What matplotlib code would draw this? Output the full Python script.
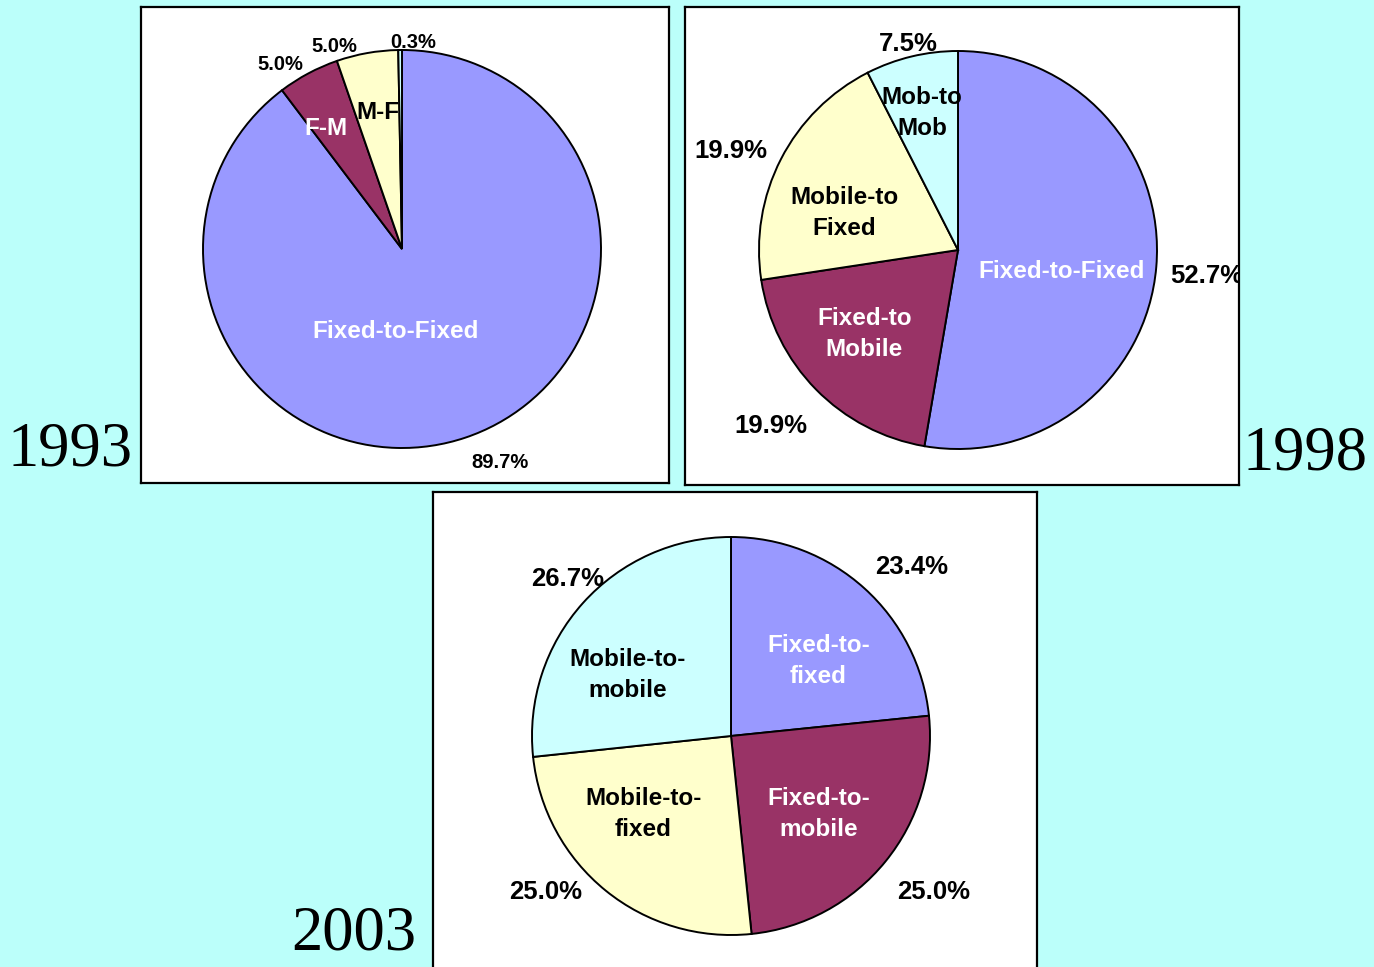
import matplotlib
matplotlib.use('Agg')
import matplotlib.pyplot as plt

W, H = 1374, 967
BG = '#bbfffa'
COLORS = ['#9999ff', '#993366', '#ffffcc', '#ccffff']

# 1993
labels_93 = ['Fixed-to-Fixed', 'F-M', 'M-F', '']
values_93 = [89.7, 5.0, 5.0, 0.3]
pct_93 = ['89.7%', '5.0%', '5.0%', '0.3%']

# 1998
labels_98 = ['Fixed-to-Fixed', 'Fixed-to\nMobile', 'Mobile-to\nFixed', 'Mob-to\nMob']
values_98 = [52.7, 19.9, 19.9, 7.5]
pct_98 = ['52.7%', '19.9%', '19.9%', '7.5%']

# 2003
labels_03 = ['Fixed-to-\nfixed', 'Fixed-to-\nmobile', 'Mobile-to-\nfixed', 'Mobile-to-\nmobile']
values_03 = [23.4, 25.0, 25.0, 26.7]
pct_03 = ['23.4%', '25.0%', '25.0%', '26.7%']

label_colors = ['white', 'white', 'black', 'black']

fig = plt.figure(figsize=(W / 100, H / 100), dpi=100, facecolor=BG)


def panel(x0, y0, x1, y1):
    ax = fig.add_axes([x0 / W, 1 - y1 / H, (x1 - x0) / W, (y1 - y0) / H])
    ax.set_facecolor('white')
    return ax, x1 - x0, y1 - y0


def draw(ax, w, h, cx, cy, r, values, labels, pcts, lab_pos, pct_pos, lab_size, pct_size):
    ax.pie(values, colors=COLORS, startangle=90, counterclock=False,
           center=(cx, cy), radius=r, frame=True,
           wedgeprops=dict(edgecolor='black', linewidth=1.4))
    ax.set_xlim(0, w)
    ax.set_ylim(0, h)
    ax.set_xticks([])
    ax.set_yticks([])
    for s in ax.spines.values():
        s.set_linewidth(1.6)
    dy = -2.5  # nudge text a touch lower
    for lab, (fx, fy), c in zip(labels, lab_pos, label_colors):
        ax.text(cx + fx * r, cy + fy * r + dy, lab, ha='center', va='center', color=c,
                fontsize=lab_size, fontweight='bold', family='Liberation Sans',
                linespacing=1.45)
    for p, (fx, fy) in zip(pcts, pct_pos):
        ax.text(cx + fx * r, cy + fy * r + dy, p, ha='center', va='center', color='black',
                fontsize=pct_size, fontweight='bold', family='Liberation Sans',
                clip_on=True)


ax1, w1, h1 = panel(141, 7, 669, 483)
draw(ax1, w1, h1, 261, 234, 199, values_93, labels_93, pct_93,
     [(-0.03, -0.40), (-0.38, 0.62), (-0.12, 0.70), (0, 0)],
     [(0.49, -1.06), (-0.61, 0.94), (-0.34, 1.03), (0.055, 1.05)],
     17.5, 14.5)

ax2, w2, h2 = panel(685, 7, 1239, 485)
draw(ax2, w2, h2, 273, 235, 199, values_98, labels_98, pct_98,
     [(0.52, -0.095), (-0.47, -0.41), (-0.57, 0.20), (-0.18, 0.70)],
     [(1.25, -0.12), (-0.94, -0.87), (-1.14, 0.51), (-0.25, 1.05)],
     17.5, 18.5)

ax3, w3, h3 = panel(433, 492, 1037, 970)
draw(ax3, w3, h3, 298, 234, 199, values_03, labels_03, pct_03,
     [(0.44, 0.39), (0.44, -0.38), (-0.44, -0.38), (-0.52, 0.32)],
     [(0.91, 0.86), (1.02, -0.77), (-0.93, -0.77), (-0.82, 0.80)],
     17.5, 18.5)

years = ['1993', '1998', '2003']
year_xy = [(70, 450), (1305, 455), (354, 935)]
for yr, (x, y) in zip(years, year_xy):
    fig.text(x / W, 1 - y / H, yr, ha='center', va='center', fontsize=45,
             family='Liberation Serif', color='black')

fig.savefig('out.png', dpi=100, facecolor=BG)
